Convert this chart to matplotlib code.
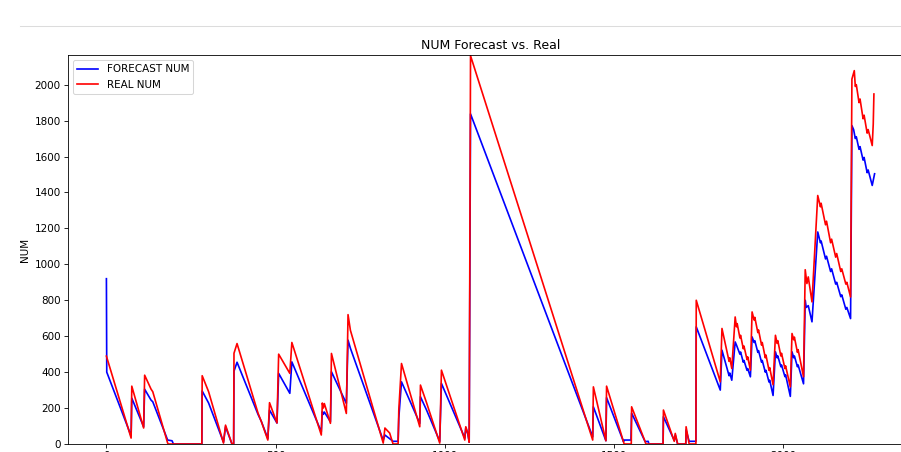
import matplotlib
matplotlib.use("Agg")
import matplotlib.pyplot as plt
from matplotlib.lines import Line2D

# corner points of the two series (index, value)
forecast_x = [0, 1, 73, 75, 110, 113, 132, 137, 181, 194, 198, 282, 283, 302, 346, 352, 371, 376,
              377, 386, 448, 458, 477, 482, 504, 509, 542, 548, 635, 638, 641, 644, 662, 665,
              709, 714, 721, 818, 823, 837, 847, 862, 864, 872, 926, 928, 946, 985, 990, 1059,
              1062, 1068, 1072, 1076, 1437, 1439, 1476, 1478, 1528, 1530, 1550, 1552,
              1592, 1601, 1603, 1645, 1646, 1678, 1681, 1688, 1712, 1713, 1722, 1742, 1743,
              1814, 1819, 1840, 1842, 1848, 1858, 1862, 1872, 1874, 1882, 1884, 1893, 1895,
              1903, 1908, 1914, 1916, 1925, 1927, 1936, 1938, 1947, 1949, 1958, 1960, 1970,
              1977, 1982, 1984, 1993, 1995, 2005, 2007, 2021, 2026, 2031, 2033, 2042, 2044,
              2060, 2065, 2068, 2074, 2085, 2102, 2110, 2112, 2125, 2128, 2140, 2143, 2155,
              2158, 2170, 2173, 2185, 2188, 2199, 2203, 2208, 2213, 2216, 2224, 2227, 2236,
              2239, 2248, 2251, 2263, 2270]
forecast_y = [920, 400, 45, 255, 96, 305, 244, 235, 22, 18, 0, 0, 295, 228, 10, 96, 0, 0,
              405, 455, 165, 125, 30, 189, 117, 393, 282, 457, 68, 180, 165, 178, 124, 402,
              226, 578, 533, 20, 50, 30, 15, 15, 144, 346, 115, 263, 189, 15, 337, 33,
              90, 55, 10, 1837, 40, 207, 18, 258, 13, 22, 22, 172,
              13, 15, 0, 0, 152, 20, 50, 0, 0, 78, 15, 15, 652,
              300, 522, 380, 395, 355, 568, 550, 500, 512, 455, 465, 410, 420,
              374, 596, 565, 575, 510, 520, 455, 465, 400, 410, 345, 355, 270,
              513, 480, 490, 430, 440, 375, 385, 265, 513, 480, 490, 430, 440,
              335, 800, 760, 770, 680, 1180, 1120, 1130, 1030, 1045, 960, 975, 890,
              900, 820, 830, 750, 760, 698, 1772, 1750, 1700, 1710, 1640, 1655, 1580,
              1595, 1510, 1525, 1439, 1504]

real_x = [0, 73, 75, 110, 113, 132, 137, 181, 183, 282, 283, 302, 346, 352, 371, 376, 377, 386,
          448, 458, 477, 482, 504, 509, 542, 548, 635, 638, 641, 644, 662, 665, 709, 714, 721,
          818, 823, 837, 847, 862, 864, 872, 926, 928, 946, 985, 990, 1059, 1062, 1068, 1072,
          1076, 1437, 1439, 1476, 1478, 1528, 1530, 1551, 1552, 1592, 1594, 1645, 1646, 1678,
          1681, 1688, 1712, 1713, 1722, 1742, 1743, 1814, 1819, 1840, 1842, 1848, 1858, 1862,
          1864, 1872, 1874, 1882, 1884, 1893, 1895, 1903, 1908, 1914, 1916, 1925, 1927, 1936,
          1938, 1947, 1949, 1958, 1960, 1970, 1977, 1982, 1984, 1993, 1995, 2005, 2007, 2021,
          2026, 2031, 2033, 2042, 2044, 2060, 2065, 2070, 2074, 2085, 2102, 2110, 2112, 2125,
          2128, 2140, 2143, 2155, 2158, 2170, 2173, 2185, 2188, 2199, 2203, 2210, 2213, 2216,
          2224, 2227, 2236, 2239, 2248, 2251, 2263, 2266, 2268]
real_y = [489, 33, 322, 89, 383, 305, 291, 5, 0, 0, 380, 291, 5, 105, 0, 0, 505, 559,
          172, 124, 22, 230, 117, 500, 393, 565, 50, 228, 200, 225, 115, 504, 170, 720, 633,
          5, 89, 61, 0, 0, 189, 448, 96, 328, 230, 5, 411, 22, 96, 61, 10,
          2161, 22, 318, 18, 322, 13, 0, 0, 207, 13, 0, 0, 189, 15,
          59, 0, 0, 96, 0, 0, 800, 346, 643, 460, 480, 420, 707, 652,
          670, 590, 605, 530, 545, 470, 485, 411, 735, 690, 705, 620, 635, 550,
          565, 480, 495, 410, 425, 330, 605, 560, 575, 490, 505, 420, 435, 318,
          615, 580, 595, 510, 525, 374, 970, 893, 930, 791, 1383, 1320, 1340, 1220,
          1240, 1120, 1140, 1040, 1060, 960, 975, 890, 900, 818, 2031, 2078, 1990, 2000,
          1900, 1920, 1810, 1830, 1730, 1750, 1661, 1780, 1948]

x_ticks = [0, 500, 1000, 1500, 2000]
y_ticks = [0, 200, 400, 600, 800, 1000, 1200, 1400, 1600, 1800, 2000]

fig = plt.figure(figsize=(901 / 75, 452 / 75), dpi=75)
ax = fig.add_axes([68 / 901, 8 / 452, 845 / 901, 389 / 452])

ax.plot(forecast_x, forecast_y, color="blue", lw=1.6, label="FORECAST NUM")
ax.plot(real_x, real_y, color="red", lw=1.6, label="REAL NUM")

ax.set_title("NUM Forecast vs. Real")
ax.set_ylabel("NUM")
ax.set_xticks(x_ticks)
ax.set_yticks(y_ticks)
ax.set_ylim(0, 2165)
ax.legend(loc="upper left")

# separator line of the notebook cell above the plot
fig.add_artist(Line2D([20 / 901, 1], [1 - 26 / 452, 1 - 26 / 452], color="#dcdcdc", lw=1))

fig.savefig("out.png", dpi=75)
